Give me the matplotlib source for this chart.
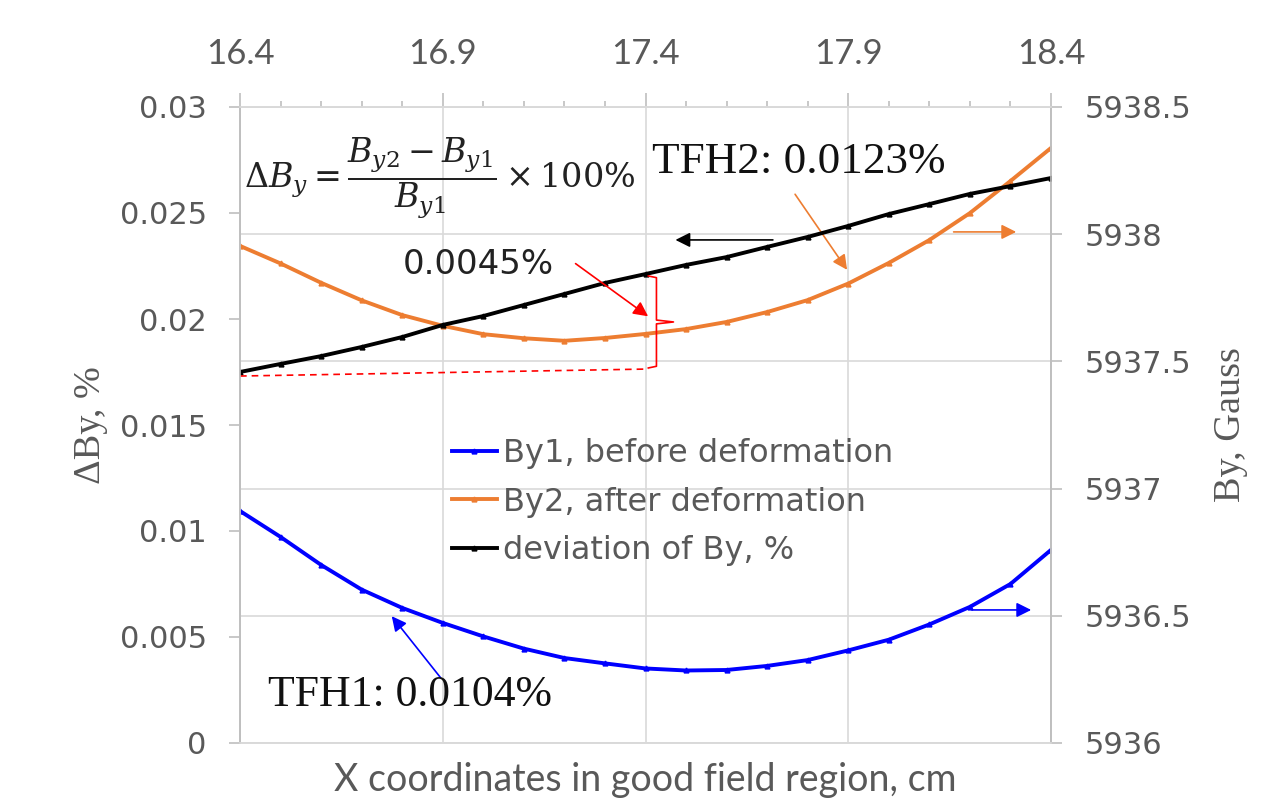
import matplotlib
matplotlib.use("Agg")
import matplotlib.pyplot as plt
from matplotlib.ticker import FixedLocator, MultipleLocator, FuncFormatter

# positions across the good field region, cm
x = [16.4, 16.5, 16.6, 16.7, 16.8, 16.9, 17.0, 17.1, 17.2, 17.3, 17.4,
     17.5, 17.6, 17.7, 17.8, 17.9, 18.0, 18.1, 18.2, 18.3, 18.4]
x_ticks = [16.4, 16.9, 17.4, 17.9, 18.4]

# By before / after deformation, Gauss (right axis)
by1 = [5936.912, 5936.810, 5936.700, 5936.603, 5936.531, 5936.472, 5936.419,
       5936.371, 5936.334, 5936.313, 5936.293, 5936.285, 5936.287, 5936.303,
       5936.326, 5936.364, 5936.406, 5936.466, 5936.535, 5936.625, 5936.759]
by2 = [5937.954, 5937.885, 5937.809, 5937.740, 5937.682, 5937.640, 5937.607,
       5937.591, 5937.581, 5937.592, 5937.608, 5937.627, 5937.655, 5937.694,
       5937.741, 5937.806, 5937.887, 5937.977, 5938.083, 5938.209, 5938.339]

# deviation of By, % (left axis)
dev = [0.01750, 0.01788, 0.01825, 0.01868, 0.01915, 0.01972, 0.02014,
       0.02066, 0.02118, 0.02170, 0.02212, 0.02255, 0.02292, 0.02340,
       0.02387, 0.02439, 0.02495, 0.02542, 0.02590, 0.02627, 0.02665]

gray = "#595959"
blue = "#0000FF"
orange = "#ED7D31"
red = "#FF0000"

plt.rcParams["mathtext.fontset"] = "dejavuserif"

fig = plt.figure(figsize=(12.61, 8.01), dpi=100)
axb = fig.add_axes([240 / 1261, 1 - 743 / 801, 811 / 1261, 636 / 801])
axd = axb.twinx()

# By axis: ticks on the right, grid underneath everything
axb.yaxis.tick_right()
axb.yaxis.set_label_position("right")
axd.yaxis.tick_left()
axd.yaxis.set_label_position("left")

l1, = axb.plot(x, by1, color=blue, lw=2.8, marker="^", ms=3.5, label="By1, before deformation")
l2, = axb.plot(x, by2, color=orange, lw=2.8, marker="^", ms=3.5, label="By2, after deformation")
l3, = axd.plot(x, dev, color="black", lw=2.8, marker="^", ms=3.5, label="deviation of By, %")

axb.set_xlim(16.4, 18.4)
axb.set_ylim(5936, 5938.5)
axd.set_ylim(0, 0.03)

axb.yaxis.set_major_locator(MultipleLocator(0.5))
axd.yaxis.set_major_locator(MultipleLocator(0.005))
fmt = FuncFormatter(lambda v, p: f"{v:g}")
axb.yaxis.set_major_formatter(fmt)
axd.yaxis.set_major_formatter(fmt)

axb.xaxis.set_major_locator(FixedLocator(x_ticks))
axb.xaxis.set_minor_locator(FixedLocator(x))
axb.xaxis.set_major_formatter(FuncFormatter(lambda v, p: f"{v:.1f}"))
axb.xaxis.tick_top()
axb.xaxis.set_label_position("bottom")

axb.grid(True, which="major", color="#D9D9D9", lw=1.2)
axb.set_axisbelow(True)

for a in (axb, axd):
    for s in a.spines.values():
        s.set_color("#BFBFBF")
        s.set_linewidth(1.2)
    a.spines["bottom"].set_color("#D9D9D9")
    a.spines["top"].set_color("#D9D9D9")

axb.tick_params(axis="y", which="major", direction="out", length=8, width=1.2,
                color="#BFBFBF", labelcolor=gray, labelsize=22, pad=16)
axd.tick_params(axis="y", which="major", direction="out", length=8, width=1.2,
                color="#BFBFBF", labelcolor=gray, labelsize=22, pad=16)
axb.tick_params(axis="x", which="major", direction="out", length=10, width=1.2,
                color="#BFBFBF", labelcolor=gray, pad=17)
axb.tick_params(axis="x", which="minor", direction="out", length=4, width=1.2,
                color="#BFBFBF")
for t in axb.get_xticklabels():
    t.set_family(["Lato", "DejaVu Sans"])
    t.set_fontsize(25)

axb.set_xlabel("X coordinates in good field region, cm", color=gray, fontsize=27,
               family=["Lato", "DejaVu Sans"], labelpad=14)
axd.set_ylabel("ΔBy, %", color=gray, fontsize=27.5, family="Liberation Serif", labelpad=8)
axb.set_ylabel("By, Gauss", color=gray, fontsize=27.5, family="Liberation Serif", labelpad=16)

leg = fig.legend(handles=[l1, l2, l3], loc="upper left",
                 bbox_to_anchor=(452 / 1261, 1 - 438 / 801), frameon=False,
                 prop={"family": "DejaVu Sans", "size": 23}, handlelength=1.4,
                 handletextpad=0.2, labelspacing=0.55, borderpad=0, borderaxespad=0)
for t in leg.get_texts():
    t.set_color(gray)

# axis indicator arrows
axd.annotate("", xy=(17.467, 0.02373), xytext=(17.721, 0.02373),
             arrowprops=dict(arrowstyle="-|>", color="black", lw=1.2, mutation_scale=22))
axb.annotate("", xy=(18.321, 5938.009), xytext=(18.153, 5938.009),
             arrowprops=dict(arrowstyle="-|>", color=orange, lw=1.2, mutation_scale=22))
axb.annotate("", xy=(18.358, 5936.523), xytext=(18.198, 5936.523),
             arrowprops=dict(arrowstyle="-|>", color=blue, lw=1.2, mutation_scale=22))

# callouts
axb.annotate("", xy=(17.901, 5937.851), xytext=(17.765, 5938.166),
             arrowprops=dict(arrowstyle="-|>", color=orange, lw=1.2, mutation_scale=22))
axb.annotate("", xy=(16.770, 5936.507), xytext=(16.899, 5936.248),
             arrowprops=dict(arrowstyle="-|>", color=blue, lw=1.2, mutation_scale=22))
axd.annotate("", xy=(17.412, 0.02005), xytext=(17.222, 0.02269),
             arrowprops=dict(arrowstyle="-|>", color=red, lw=1.2, mutation_scale=22))

# brace and dashed reference line for 0.0045%
bx = [17.407, 17.427, 17.427, 17.469, 17.427, 17.427, 17.407]
bv = [0.02203, 0.02195, 0.01995, 0.01986, 0.01977, 0.01777, 0.01769]
axd.plot(bx, bv, color=red, lw=1.2)
axd.plot([16.4, 17.407], [0.01731, 0.01764], color=red, lw=1.2, ls=(0, (4, 3)))

fig.text(440 / 1261, 1 - 178 / 801,
         r"$\Delta B_y = \dfrac{B_{y2} - B_{y1}}{B_{y1}} \times 100\%$",
         fontsize=24, ha="center", va="center", color="#222222")
fig.text(652 / 1261, 1 - 162 / 801, "TFH2: 0.0123%", family="Liberation Serif",
         fontsize=32.5, ha="left", va="center", color="#111111")
fig.text(268 / 1261, 1 - 695 / 801, "TFH1: 0.0104%", family="Liberation Serif",
         fontsize=31.5, ha="left", va="center", color="#111111")
fig.text(403 / 1261, 1 - 265 / 801, "0.0045%", family="DejaVu Sans",
         fontsize=24.5, ha="left", va="center", color="#222222")

fig.savefig("out.png", dpi=100)
